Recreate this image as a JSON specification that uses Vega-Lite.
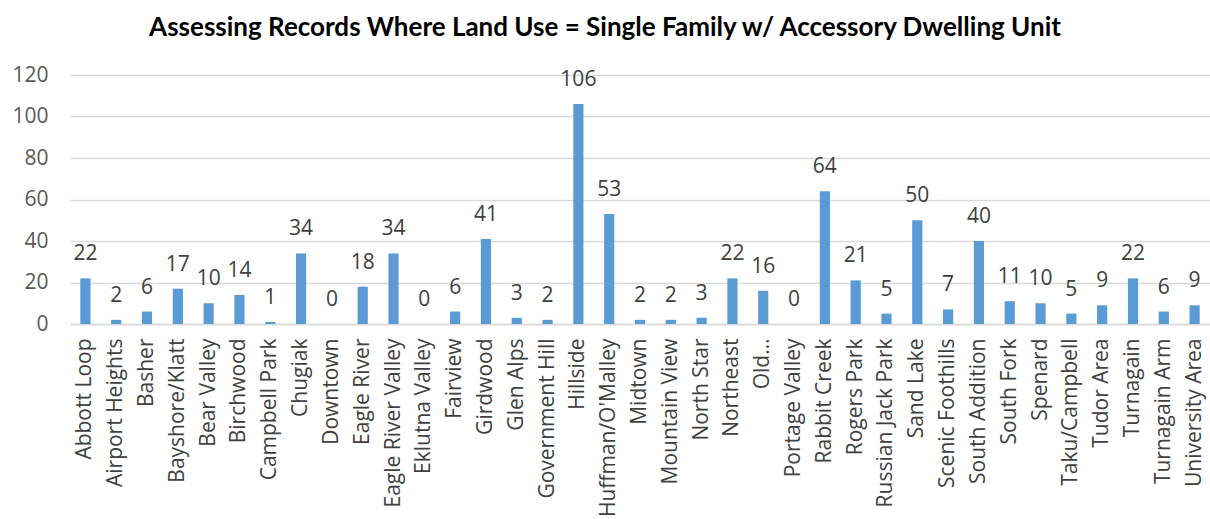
{
  "$schema": "https://vega.github.io/schema/vega-lite/v6.json",
  "width": 1140,
  "height": 249,
  "autosize": {"type": "none"},
  "padding": {"left": 70, "top": 75, "right": 0, "bottom": 195},
  "background": "white",
  "title": {
    "text": "Assessing Records Where Land Use = Single Family w/ Accessory Dwelling Unit",
    "font": "Lato",
    "fontSize": 26,
    "fontWeight": "bold",
    "color": "#000000",
    "anchor": "middle",
    "dx": -35,
    "offset": 23
  },
  "data": {
    "values": [
      {"area": "Abbott Loop", "count": 22},
      {"area": "Airport Heights", "count": 2},
      {"area": "Basher", "count": 6},
      {"area": "Bayshore/Klatt", "count": 17},
      {"area": "Bear Valley", "count": 10},
      {"area": "Birchwood", "count": 14},
      {"area": "Campbell Park", "count": 1},
      {"area": "Chugiak", "count": 34},
      {"area": "Downtown", "count": 0},
      {"area": "Eagle River", "count": 18},
      {"area": "Eagle River Valley", "count": 34},
      {"area": "Eklutna Valley", "count": 0},
      {"area": "Fairview", "count": 6},
      {"area": "Girdwood", "count": 41},
      {"area": "Glen Alps", "count": 3},
      {"area": "Government Hill", "count": 2},
      {"area": "Hillside", "count": 106},
      {"area": "Huffman/O'Malley", "count": 53},
      {"area": "Midtown", "count": 2},
      {"area": "Mountain View", "count": 2},
      {"area": "North Star", "count": 3},
      {"area": "Northeast", "count": 22},
      {"area": "Old…", "count": 16},
      {"area": "Portage Valley", "count": 0},
      {"area": "Rabbit Creek", "count": 64},
      {"area": "Rogers Park", "count": 21},
      {"area": "Russian Jack Park", "count": 5},
      {"area": "Sand Lake", "count": 50},
      {"area": "Scenic Foothills", "count": 7},
      {"area": "South Addition", "count": 40},
      {"area": "South Fork", "count": 11},
      {"area": "Spenard", "count": 10},
      {"area": "Taku/Campbell", "count": 5},
      {"area": "Tudor Area", "count": 9},
      {"area": "Turnagain", "count": 22},
      {"area": "Turnagain Arm", "count": 6},
      {"area": "University Area", "count": 9}
    ]
  },
  "encoding": {
    "x": {
      "field": "area",
      "type": "nominal",
      "sort": null,
      "scale": {"paddingInner": 0.67, "paddingOuter": 0.335},
      "axis": {
        "title": null,
        "labelAngle": -90,
        "labelFont": "Open Sans",
        "labelFontSize": 21,
        "labelColor": "#404040",
        "labelPadding": 14,
        "labelLimit": 300,
        "ticks": false,
        "domainColor": "#d9d9d9",
        "domainWidth": 1.5
      }
    },
    "y": {
      "field": "count",
      "type": "quantitative",
      "scale": {"domain": [0, 120]},
      "axis": {
        "title": null,
        "values": [0, 20, 40, 60, 80, 100, 120],
        "labelFont": "Open Sans",
        "labelFontSize": 21,
        "labelColor": "#595959",
        "labelPadding": 22,
        "ticks": false,
        "domain": false,
        "gridColor": "#d9d9d9",
        "gridWidth": 1.5
      }
    }
  },
  "layer": [
    {"mark": {"type": "bar", "color": "#5b9bd5"}},
    {
      "mark": {
        "type": "text",
        "font": "Open Sans",
        "fontSize": 21,
        "color": "#404040",
        "baseline": "alphabetic",
        "dy": -18
      },
      "encoding": {"text": {"field": "count", "type": "quantitative"}}
    }
  ],
  "config": {"view": {"stroke": null}}
}
